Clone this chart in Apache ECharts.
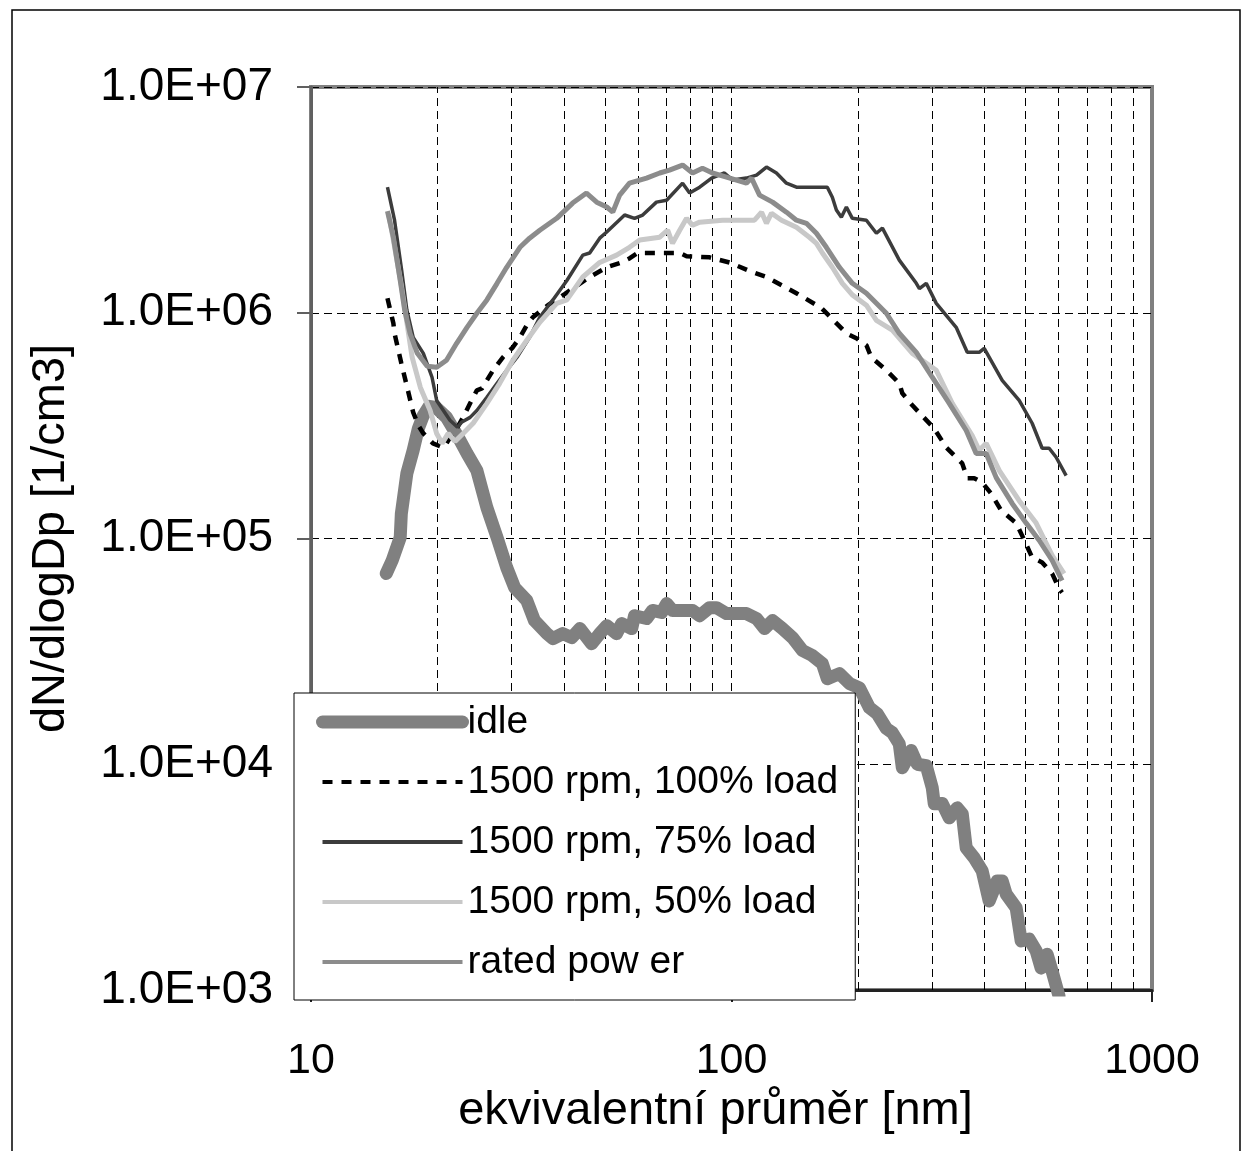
<!DOCTYPE html>
<html>
<head>
<meta charset="utf-8">
<title>dN/dlogDp</title>
<script src="https://cdn.jsdelivr.net/npm/echarts@6/dist/echarts.min.js"></script>
<style>
  html, body { margin: 0; padding: 0; background: #fff; }
  #chart { width: 1251px; height: 1151px; }
</style>
</head>
<body>
<div id="chart"></div>
<script>
// series names (legend order)
const seriesNames = ['idle', '1500 rpm, 100% load', '1500 rpm, 75% load', '1500 rpm, 50% load', 'rated pow er']

// tick labels
const xTickLabels = { 10: '10', 100: '100', 1000: '1000' }
const yTickLabels = ['1.0E+03', '1.0E+04', '1.0E+05', '1.0E+06', '1.0E+07']

// dashed vertical grid lines (diameter, nm)
const xGridLines = [20, 30, 40, 50, 60, 70, 80, 90, 100, 200, 300, 400, 500, 600, 700, 800, 900]

// [diameter nm, dN/dlogDp 1/cm3]
const idleData = [
  [15.1, 70000], [15.6, 80000], [16.3, 101000], [16.4, 129000], [16.9, 194000], [17.5, 246000],
  [18.0, 307000], [18.5, 351000], [19.1, 385000], [19.8, 381000], [21.0, 344000], [22.4, 281000],
  [23.5, 238000], [24.8, 200000], [26.2, 137000], [27.7, 101000], [29.2, 74400], [30.5, 60600],
  [32.6, 53100], [34.0, 43300], [36.4, 37900], [37.6, 36000], [39.7, 37900], [41.7, 36400],
  [43.6, 39900], [46.5, 34200], [48.6, 37900], [50.5, 41100], [53.3, 37900], [54.8, 42000],
  [57.9, 39900], [58.8, 45500], [62.8, 44200], [64.9, 48000], [68.2, 47000], [70.1, 51500],
  [72.4, 48000], [80.8, 48000], [84.0, 45500], [88.7, 49400], [92.1, 49400], [97.3, 46500],
  [108.5, 46500], [114.7, 44200], [119.8, 39900], [125.2, 43300], [132.2, 39900], [139.6, 36400],
  [147.5, 31900], [155.7, 30300], [164.5, 27900], [169.0, 23900], [180.6, 25200], [190.7, 22800],
  [201.5, 21800], [212.8, 17800], [222.3, 16700], [233.5, 14400], [241.2, 13800], [250.6, 12300],
  [254.8, 9650], [267.6, 11500], [276.6, 10000], [290.5, 9850], [300.2, 7870], [303.5, 6680],
  [317.1, 6700], [329.5, 5790], [344.2, 6410], [353.8, 6030], [361.6, 4260], [377.7, 3850],
  [394.6, 3370], [410.0, 2480], [428.4, 3040], [440.3, 3040], [450.1, 2660], [475.3, 2310],
  [488.5, 1650], [510.3, 1680], [530.3, 1490], [545.0, 1250], [563.2, 1440], [578.9, 1210],
  [601.0, 940]
]

const load100Data = [
  [15.2, 1160000], [15.7, 898000], [15.8, 811000], [16.4, 597000], [17.0, 453000], [17.5, 362000],
  [18.0, 317000], [18.5, 292000], [19.5, 264000], [20.6, 253000], [21.0, 264000], [21.7, 292000],
  [22.3, 311000], [23.0, 344000], [23.9, 397000], [24.8, 453000], [25.5, 462000], [27.1, 556000],
  [28.6, 635000], [30.2, 703000], [31.4, 778000], [32.8, 898000], [33.7, 955000], [36.6, 1080000],
  [40.1, 1210000], [46.0, 1440000], [50.5, 1590000], [54.2, 1660000], [57.2, 1740000], [59.8, 1840000],
  [75.3, 1840000], [78.2, 1780000], [88.7, 1760000], [98.9, 1670000], [110.4, 1530000], [121.1, 1440000],
  [142.7, 1220000], [163.6, 1050000], [187.6, 811000], [198.1, 771000], [209.3, 718000], [215.1, 635000],
  [233.5, 556000], [250.6, 487000], [254.8, 440000], [269.2, 389000], [303.5, 307000], [324.1, 253000],
  [353.8, 215000], [363.6, 185000], [377.7, 185000], [394.6, 177000], [414.6, 158000], [437.8, 133000],
  [475.3, 117000], [491.1, 103000], [518.8, 82400], [548.0, 78300], [578.9, 69900], [601.4, 60000],
  [611.0, 57600]
]

const load75Data = [
  [15.2, 3600000], [15.8, 2570000], [16.4, 1580000], [16.9, 1030000], [17.5, 778000], [18.5, 661000],
  [19.4, 518000], [19.9, 409000], [21.4, 334000], [22.3, 311000], [22.8, 327000], [23.9, 344000],
  [24.8, 369000], [26.2, 422000], [27.7, 487000], [29.2, 556000], [30.9, 635000], [33.1, 778000],
  [35.0, 955000], [37.6, 1140000], [40.6, 1390000], [44.3, 1800000], [46.0, 1840000], [48.6, 2140000],
  [50.5, 2280000], [55.7, 2710000], [58.8, 2620000], [61.5, 2710000], [66.3, 3090000], [70.1, 3150000],
  [76.5, 3750000], [79.5, 3390000], [84.0, 3600000], [89.7, 3950000], [96.2, 4160000], [100.6, 3870000],
  [108.5, 3950000], [114.7, 4070000], [121.1, 4420000], [127.9, 4160000], [135.1, 3750000], [142.7, 3600000],
  [169.0, 3600000], [173.7, 3250000], [177.6, 2850000], [182.5, 2650000], [187.6, 2940000], [193.8, 2620000],
  [209.3, 2570000], [221.1, 2250000], [228.5, 2370000], [250.6, 1710000], [275.1, 1350000], [279.8, 1280000],
  [290.5, 1350000], [306.9, 1100000], [342.2, 862000], [363.6, 668000], [388.2, 668000], [399.0, 696000],
  [440.3, 502000], [483.2, 409000], [518.8, 324000], [548.0, 251000], [569.4, 251000], [591.6, 229000],
  [624.9, 190000]
]

const load50Data = [
  [15.3, 2740000], [15.7, 2100000], [16.4, 1320000], [16.8, 975000], [17.4, 635000], [18.2, 467000],
  [19.2, 369000], [19.9, 292000], [20.5, 264000], [21.2, 292000], [22.0, 269000], [23.0, 292000],
  [24.3, 324000], [26.2, 397000], [28.1, 487000], [30.2, 616000], [32.6, 755000], [35.0, 908000],
  [38.4, 1100000], [40.6, 1140000], [44.3, 1440000], [48.6, 1670000], [53.3, 1800000], [57.2, 1950000],
  [60.5, 2100000], [67.5, 2160000], [70.5, 2320000], [72.4, 2030000], [75.3, 2320000], [78.2, 2620000],
  [80.8, 2440000], [84.0, 2520000], [95.2, 2570000], [113.4, 2570000], [117.9, 2790000], [121.1, 2490000],
  [124.5, 2760000], [131.5, 2570000], [142.7, 2390000], [153.2, 2160000], [159.2, 2030000], [164.5, 1840000],
  [173.7, 1590000], [183.5, 1350000], [193.8, 1200000], [209.3, 1080000], [221.1, 926000], [241.2, 837000],
  [269.2, 661000], [306.9, 556000], [335.0, 397000], [373.6, 286000], [388.2, 246000], [403.4, 264000],
  [433.4, 200000], [483.2, 147000], [530.3, 117000], [578.9, 84100], [618.0, 69900]
]

const ratedData = [
  [15.2, 2820000], [15.7, 2160000], [16.3, 1390000], [16.7, 1030000], [17.2, 811000], [17.9, 661000],
  [18.9, 579000], [19.9, 573000], [21.0, 616000], [22.2, 732000], [23.5, 862000], [24.8, 995000],
  [26.2, 1140000], [27.7, 1350000], [29.2, 1590000], [31.4, 1950000], [33.1, 2140000], [35.0, 2320000],
  [38.4, 2620000], [41.9, 3060000], [45.2, 3390000], [47.8, 3090000], [50.5, 2940000], [52.2, 2790000],
  [54.2, 3320000], [57.2, 3750000], [62.8, 3950000], [67.5, 4160000], [71.2, 4280000], [76.5, 4510000],
  [80.8, 4160000], [85.3, 4370000], [90.1, 4160000], [97.3, 3990000], [108.5, 3750000], [111.6, 3950000],
  [116.6, 3320000], [125.2, 3090000], [135.1, 2790000], [142.7, 2570000], [150.7, 2490000], [159.2, 2250000],
  [168.1, 1950000], [180.6, 1590000], [193.8, 1350000], [209.3, 1220000], [233.5, 995000], [250.6, 811000],
  [275.1, 668000], [300.2, 518000], [329.5, 397000], [361.6, 301000], [381.8, 238000], [403.4, 238000],
  [426.1, 186000], [465.0, 143000], [502.0, 117000], [539.4, 98000], [578.9, 79900], [611.2, 65100]
]

const font = "'Liberation Sans', Arial, sans-serif"
const chart = echarts.init(document.getElementById('chart'), null, { renderer: 'canvas' })

// line look per series, same order as seriesNames
const seriesStyles = [
  { color: '#808080', width: 13, cap: 'round', join: 'round' },
  { color: '#000000', width: 4.5, type: [10, 9] },
  { color: '#3c3c3c', width: 3.5 },
  { color: '#c8c8c8', width: 5 },
  { color: '#8c8c8c', width: 5 }
]
const allData = [idleData, load100Data, load75Data, load50Data, ratedData]

const series = seriesNames.map((name, i) => ({
  name: name,
  type: 'line',
  data: allData[i],
  symbol: 'none',
  showSymbol: false,
  clip: true,
  color: seriesStyles[i].color,
  lineStyle: seriesStyles[i]
}))

// minor vertical grid as markLine on the first series
series[0].markLine = {
  silent: true,
  symbol: 'none',
  z: 1,
  animation: false,
  label: { show: false },
  lineStyle: { color: '#000', width: 1, type: [8, 5], cap: 'butt' },
  data: xGridLines.map(v => ({ xAxis: v }))
}

const option = {
  backgroundColor: '#fff',
  animation: false,
  textStyle: { fontFamily: font },
  graphic: [{
    type: 'rect',
    shape: { x: 12, y: 10, width: 1228, height: 1170 },
    style: { fill: 'none', stroke: '#000', lineWidth: 1.5 },
    silent: true,
    z: -1
  }],
  grid: {
    left: 311, right: 99, top: 87, bottom: 161,
    show: true,
    borderColor: '#808080',
    borderWidth: 4
  },
  legend: {
    orient: 'vertical',
    left: 294,
    top: 693,
    data: seriesNames.map((n, i) => ({
      name: n,
      lineStyle: { width: i === 0 ? 13 : 4, cap: i === 0 ? 'round' : 'butt' }
    })),
    backgroundColor: '#fff',
    borderColor: '#000',
    borderWidth: 1,
    padding: [9, 17, 18, 22],
    itemWidth: 140,
    itemHeight: 20,
    itemGap: 20,
    selectedMode: false,
    itemStyle: { color: 'rgba(0,0,0,0)', borderWidth: 0, opacity: 0 },
    textStyle: { fontSize: 39, color: '#000', fontFamily: font, lineHeight: 40 }
  },
  xAxis: {
    type: 'log',
    logBase: 10,
    min: 10,
    max: 1000,
    name: 'ekvivalentní průměr [nm]',
    nameLocation: 'middle',
    nameGap: 97,
    nameTextStyle: { fontSize: 47, color: '#000', fontFamily: font, padding: [0, 32, 0, 0] },
    axisLine: { show: true, lineStyle: { color: '#222', width: 3 } },
    axisTick: { show: true, inside: false, length: 12, lineStyle: { color: '#222', width: 2 } },
    axisLabel: {
      fontSize: 43, color: '#000', margin: 50, fontFamily: font,
      formatter: v => xTickLabels[Math.round(v)] || ''
    },
    splitLine: { show: false }
  },
  yAxis: {
    type: 'log',
    logBase: 10,
    min: 1000,
    max: 10000000,
    name: 'dN/dlogDp [1/cm3]',
    nameLocation: 'middle',
    nameRotate: 90,
    nameGap: 236,
    nameTextStyle: { fontSize: 47, color: '#000', fontFamily: font },
    axisLine: { show: true, lineStyle: { color: '#606060', width: 3 } },
    axisTick: { show: true, inside: false, length: 14, lineStyle: { color: '#606060', width: 2 } },
    axisLabel: {
      fontSize: 46, color: '#000', margin: 38, fontFamily: font,
      formatter: v => yTickLabels[Math.round(Math.log10(v)) - 3] || ''
    },
    splitLine: { show: true, lineStyle: { color: '#000', width: 1, type: [8, 5] } }
  },
  series: series
}

chart.setOption(option)
</script>
</body>
</html>
